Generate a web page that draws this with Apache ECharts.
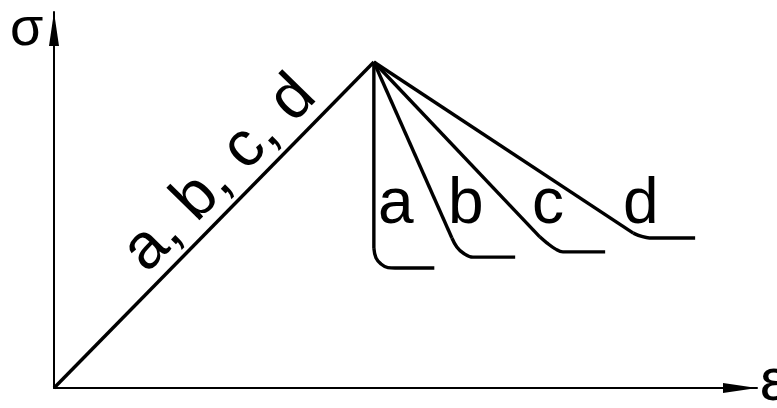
<!DOCTYPE html>
<html>
<head>
<meta charset="utf-8">
<script src="https://cdn.jsdelivr.net/npm/echarts@6/dist/echarts.min.js"></script>
<style>
html,body{margin:0;padding:0;background:#fff;}
#chart{width:777px;height:408px;}
</style>
</head>
<body>
<div id="chart"></div>
<script>
// Schematic stress (σ) – strain (ε) curves, arbitrary units 0–100
const loadX = [0, 45.5];
const loadY = [0, 86.7];

const aX = [45.5, 45.5, 45.8, 46.5, 47.5, 48.5, 54.1];
const aY = [86.7, 37.2, 34.6, 33.0, 32.0, 31.9, 31.9];

const bX = [45.5, 56.6, 57.3, 58.2, 59.6, 65.6];
const bY = [86.7, 39.9, 37.5, 35.9, 34.8, 34.8];

const cX = [45.5, 69.1, 70.1, 71.3, 72.4, 78.4];
const cY = [86.7, 40.2, 38.6, 37.0, 36.2, 36.2];

const dX = [45.5, 82.4, 83.6, 84.7, 91.2];
const dY = [86.7, 41.2, 40.3, 39.9, 39.9];

const caseNames = ['a', 'b', 'c', 'd'];
const loadLabel = 'a, b, c, d';
const yName = 'σ';
const xName = 'ε';

function pts(xs, ys) { return xs.map((x, i) => [x, ys[i]]); }

const lineStyle = { color: '#000', width: 3.4 };
function lineSeries(data, smooth) {
  return {
    type: 'line', data: data, showSymbol: false, symbol: 'none',
    smooth: smooth ? 0.4 : false, lineStyle: lineStyle, silent: true, animation: false
  };
}

const cases = [[aX, aY], [bX, bY], [cX, cY], [dX, dY]];
const series = [lineSeries(pts(loadX, loadY), false)];
cases.forEach(([xs, ys]) => {
  const p = pts(xs, ys);
  series.push(lineSeries(p.slice(0, 2), false));
  series.push(lineSeries(p.slice(1), true));
});

const chart = echarts.init(document.getElementById('chart'), null, { renderer: 'canvas' });
const FONT = "'Liberation Sans', Arial, sans-serif";
const axisCommon = {
  type: 'value', min: 0, max: 100,
  axisLine: {
    show: true, onZero: false,
    lineStyle: { color: '#000', width: 2 },
    symbol: ['none', 'triangle'], symbolSize: [10, 34], symbolOffset: [0, -17]
  },
  axisTick: { show: false }, axisLabel: { show: false }, splitLine: { show: false }
};

const labelPos = [[378, 205], [448, 205], [532, 205], [623, 205]];
const graphics = caseNames.map((n, i) => ({
  type: 'text', x: labelPos[i][0], y: labelPos[i][1], silent: true,
  style: { text: n, font: '64px ' + FONT, fill: '#000', textAlign: 'left', textVerticalAlign: 'middle' }
}));
graphics.push({
  type: 'text', x: 220, y: 174, rotation: 0.796, silent: true,
  style: { text: loadLabel, font: '64px ' + FONT, fill: '#000', textAlign: 'center', textVerticalAlign: 'middle' }
});
graphics.push({
  type: 'text', x: 10, y: 30, silent: true,
  style: { text: yName, font: '54px ' + FONT, fill: '#000', textAlign: 'left', textVerticalAlign: 'middle' }
});
graphics.push({
  type: 'text', x: 760, y: 383, silent: true,
  style: { text: xName, font: '60px ' + FONT, fill: '#000', textAlign: 'left', textVerticalAlign: 'middle' }
});

chart.setOption({
  animation: false,
  backgroundColor: '#fff',
  grid: { left: 54, right: 20, top: 12, bottom: 20, containLabel: false },
  xAxis: axisCommon,
  yAxis: axisCommon,
  series: series,
  graphic: graphics
});
</script>
</body>
</html>
